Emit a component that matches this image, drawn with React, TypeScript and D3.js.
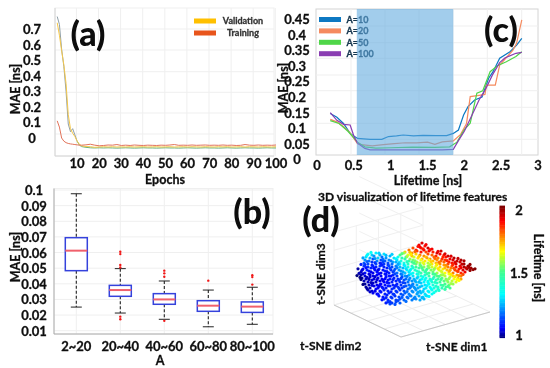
import React from "react";
import * as d3 from "d3";

const FONT = "Lato, 'Open Sans', sans-serif";

// ---------- panel (a): training curves ----------
const epochTicks = [10, 20, 30, 40, 50, 60, 70, 80, 90, 100];
const maeTicksA = [0, 0.1, 0.2, 0.3, 0.4, 0.5, 0.6, 0.7];
const epochs = [1, 2, 3, 4, 5, 6, 7, 8, 9, 10, 11, 12, 14, 16, 18, 20, 22, 24, 26, 28, 30, 32, 34, 36, 38, 40, 42, 44, 46, 48, 50, 52, 54, 56, 58, 60, 62, 64, 66, 68, 70, 72, 74, 76, 78, 80, 82, 84, 86, 88, 90, 92, 94, 96, 98, 100];
const valYellow = [0.74, 0.66, 0.56, 0.47, 0.35, 0.15, 0.06, 0.03, 0.01, -0.02, -0.04, -0.05, -0.055, -0.056, -0.06, -0.058, -0.056, -0.058, -0.056, -0.058, -0.057, -0.058, -0.056, -0.058, -0.057, -0.056, -0.058, -0.057, -0.056, -0.058, -0.057, -0.056, -0.058, -0.057, -0.056, -0.058, -0.056, -0.057, -0.058, -0.056, -0.057, -0.058, -0.056, -0.057, -0.056, -0.058, -0.057, -0.056, -0.058, -0.056, -0.057, -0.058, -0.056, -0.057, -0.058, -0.056];
const valGrey = [0.78, 0.73, 0.57, 0.46, 0.3, 0.09, 0.04, 0.06, 0.02, -0.02, -0.045, -0.055, -0.06, -0.063, -0.064, -0.063, -0.064, -0.063, -0.064, -0.065, -0.064, -0.063, -0.064, -0.065, -0.064, -0.063, -0.064, -0.064, -0.065, -0.064, -0.063, -0.064, -0.064, -0.065, -0.064, -0.063, -0.064, -0.065, -0.064, -0.063, -0.064, -0.064, -0.065, -0.064, -0.063, -0.064, -0.065, -0.064, -0.063, -0.064, -0.064, -0.065, -0.064, -0.063, -0.064, -0.064];
const trainRed = [0.11, 0.07, 0.0, -0.02, -0.03, -0.035, -0.038, -0.04, -0.042, -0.044, -0.046, -0.046, -0.044, -0.04, -0.046, -0.05, -0.048, -0.045, -0.046, -0.042, -0.048, -0.046, -0.048, -0.045, -0.047, -0.048, -0.046, -0.047, -0.048, -0.046, -0.047, -0.045, -0.042, -0.047, -0.046, -0.047, -0.045, -0.047, -0.046, -0.045, -0.047, -0.046, -0.047, -0.045, -0.047, -0.046, -0.048, -0.047, -0.042, -0.046, -0.047, -0.045, -0.047, -0.046, -0.047, -0.045];

// ---------- panel (b): box plot ----------
const groupsB = ["2~20", "20~40", "40~60", "60~80", "80~100"];
const whiskerHigh = [0.0976, 0.0497, 0.0418, 0.036, 0.0378];
const boxHigh = [0.0695, 0.039, 0.0337, 0.0292, 0.0284];
const medians = [0.0612, 0.036, 0.03, 0.026, 0.0254];
const boxLow = [0.0484, 0.032, 0.0269, 0.0224, 0.0217];
const whiskerLow = [0.0251, 0.0213, 0.0173, 0.0125, 0.0141];
const outliers = [
  [],
  [0.0605, 0.059, 0.052, 0.0505, 0.019, 0.0173],
  [0.0484, 0.0467, 0.0445, 0.0163],
  [0.042],
  [0.0455, 0.0443, 0.0395],
];
const maeTicksB = [0.01, 0.02, 0.03, 0.04, 0.05, 0.06, 0.07, 0.08, 0.09, 0.1];

// ---------- panel (c): MAE vs lifetime ----------
const lifeTicks = [0, 0.5, 1, 1.5, 2, 2.5, 3];
const maeTicksC = [0, 0.05, 0.1, 0.15, 0.2, 0.25, 0.3, 0.35, 0.4, 0.45];
const shadedRange = [0.54, 1.85];
const seriesNames = ["A=10", "A=20", "A=50", "A=100"];
const seriesColors = ["#0a78c2", "#f58a5e", "#4fd648", "#8a3db2"];
const a10: number[][] = [[0.18, 0.147], [0.27, 0.135], [0.36, 0.115], [0.45, 0.083], [0.55, 0.067], [0.72, 0.064], [0.88, 0.064], [0.97, 0.073], [1.08, 0.075], [1.17, 0.078], [1.31, 0.075], [1.44, 0.077], [1.62, 0.076], [1.76, 0.076], [1.85, 0.083], [1.92, 0.094], [1.99, 0.142], [2.05, 0.169], [2.14, 0.19], [2.24, 0.2], [2.33, 0.26], [2.39, 0.281], [2.48, 0.324], [2.62, 0.345], [2.71, 0.366], [2.78, 0.388]];
const a20: number[][] = [[0.18, 0.128], [0.27, 0.12], [0.36, 0.105], [0.45, 0.085], [0.55, 0.05], [0.6, 0.047], [0.75, 0.043], [0.9, 0.047], [1.05, 0.05], [1.2, 0.053], [1.35, 0.053], [1.5, 0.055], [1.6, 0.048], [1.7, 0.056], [1.85, 0.059], [1.95, 0.08], [2.03, 0.115], [2.08, 0.201], [2.2, 0.205], [2.28, 0.208], [2.3, 0.238], [2.42, 0.238], [2.48, 0.302], [2.66, 0.35], [2.71, 0.373], [2.78, 0.447]];
const a50: number[][] = [[0.18, 0.124], [0.3, 0.115], [0.42, 0.09], [0.55, 0.055], [0.65, 0.04], [0.8, 0.036], [1.0, 0.037], [1.3, 0.039], [1.6, 0.038], [1.8, 0.04], [1.9, 0.055], [2.0, 0.095], [2.08, 0.116], [2.17, 0.212], [2.25, 0.22], [2.35, 0.281], [2.45, 0.3], [2.57, 0.313], [2.7, 0.33], [2.78, 0.345]];
const a100: number[][] = [[0.18, 0.15], [0.27, 0.125], [0.36, 0.112], [0.45, 0.11], [0.5, 0.075], [0.55, 0.052], [0.65, 0.035], [0.72, 0.03], [0.9, 0.03], [1.2, 0.03], [1.5, 0.03], [1.7, 0.03], [1.85, 0.032], [1.92, 0.06], [2.0, 0.09], [2.1, 0.14], [2.2, 0.19], [2.3, 0.23], [2.38, 0.27], [2.48, 0.31], [2.55, 0.325], [2.7, 0.34], [2.78, 0.343]];
const seriesC = [a10, a20, a50, a100];

// ---------- panel (d): t-SNE cloud, [dim A, dim B, lifetime x 100] ----------
const tsnePoints: number[][] = [
  [64,60,190],[67,62,192],[70,59,188],[66,57,186],[58,57,182],[61,55,186],[65,58,190],[69,55,189],[73,57,193],[77,56,190],
  [50,53,170],[54,55,178],[57,52,176],[62,54,184],[66,53,187],[71,53,182],[74,54,190],[78,53,186],[82,52,192],[86,54,193],
  [13,51,135],[17,50,128],[21,52,132],[25,50,125],[29,51,130],[45,50,150],[49,52,158],[53,50,165],[57,49,172],[61,51,170],[65,50,178],[69,49,176],[73,51,182],[77,50,180],[81,49,186],[85,51,190],[89,50,188],[93,49,194],
  [11,48,130],[15,47,125],[19,49,122],[23,47,128],[27,48,118],[31,47,122],[35,49,125],[39,47,130],[43,48,135],[47,47,145],[51,48,150],[55,46,158],[59,48,162],[63,47,168],[67,46,172],[71,48,170],[75,46,176],[79,48,180],[83,47,178],[87,46,185],[91,48,188],[95,46,190],[99,47,195],
  [10,45,122],[14,44,118],[18,46,115],[22,44,120],[26,45,114],[30,44,116],[34,45,120],[38,43,125],[42,45,130],[46,44,138],[50,46,145],[54,44,148],[58,45,155],[62,43,158],[66,45,165],[70,44,168],[74,45,166],[78,44,172],[82,45,176],[86,44,180],[90,45,184],[94,43,186],[98,45,192],[102,44,194],[106,45,196],
  [9,42,116],[13,41,114],[17,43,112],[21,41,114],[25,42,110],[29,41,112],[33,42,115],[37,41,118],[41,43,125],[45,41,132],[49,42,138],[53,41,142],[57,43,150],[61,41,154],[65,42,158],[69,41,162],[73,42,160],[77,41,168],[81,42,172],[85,41,176],[89,43,180],[93,41,183],[97,42,188],[101,41,192],[105,43,193],[109,41,197],
  [9,39,112],[13,38,112],[17,40,110],[21,38,110],[25,39,112],[29,38,110],[33,40,112],[37,38,114],[41,39,120],[45,38,126],[49,40,130],[53,38,138],[57,39,142],[61,38,148],[65,40,152],[69,38,156],[73,39,155],[77,38,162],[81,39,165],[85,38,170],[89,40,175],[93,38,178],[97,39,183],[101,38,188],[105,39,192],[109,38,196],[113,39,198],[116,37,197],
  [8,36,106],[12,35,110],[16,37,110],[20,35,108],[24,36,110],[28,35,108],[32,37,110],[36,35,112],[40,36,116],[44,35,122],[48,37,126],[52,35,132],[56,36,136],[60,35,142],[64,37,146],[68,35,150],[72,36,150],[76,35,155],[80,37,160],[84,35,163],[88,36,168],[92,35,172],[96,37,178],[100,35,184],[104,36,188],[108,35,192],[112,36,196],
  [6,33,104],[10,32,108],[14,34,108],[18,32,106],[22,33,108],[26,32,106],[30,34,110],[34,32,110],[38,33,112],[42,32,118],[46,34,122],[50,32,127],[54,33,130],[58,32,136],[62,34,140],[66,32,146],[70,33,144],[74,32,150],[78,33,153],[82,32,158],[86,34,162],[90,32,166],[94,33,172],[98,32,178],[102,34,182],[106,32,186],[110,33,190],
  [6,30,103],[10,29,105],[14,31,106],[18,29,106],[22,30,107],[26,29,106],[30,31,108],[34,29,109],[38,30,110],[42,29,112],[46,31,118],[50,29,122],[54,30,126],[58,29,130],[62,31,135],[66,29,140],[70,30,140],[74,29,145],[78,31,148],[82,29,152],[86,30,157],[90,29,160],[94,31,165],[98,29,170],[102,30,175],[106,29,178],
  [7,27,102],[11,26,104],[15,28,105],[19,26,105],[23,27,106],[27,26,107],[31,28,108],[35,26,110],[39,27,110],[43,26,111],[47,28,114],[51,26,118],[55,27,122],[59,26,126],[63,28,130],[67,26,134],[71,27,136],[75,26,140],[79,28,145],[83,26,147],[87,27,152],[91,26,155],[95,28,160],[99,26,165],[103,27,170],[106,26,174],
  [9,24,103],[13,23,104],[17,25,105],[21,23,104],[25,24,106],[29,23,107],[33,25,108],[37,23,110],[41,24,110],[45,23,112],[49,25,115],[53,23,118],[57,24,122],[61,23,126],[65,25,130],[69,23,132],[73,24,136],[77,23,140],[81,25,143],[85,23,148],[89,24,152],[93,23,156],[97,24,160],[101,23,163],
  [10,21,102],[14,20,103],[18,22,104],[22,20,106],[26,21,108],[30,20,108],[34,22,110],[38,20,110],[42,21,110],[46,20,112],[50,22,114],[54,20,118],[58,21,120],[62,20,125],[66,22,128],[70,20,130],[74,21,134],[78,20,138],[82,22,142],[86,20,146],[90,21,150],[94,20,153],[98,21,157],
  [11,18,102],[15,17,104],[19,19,106],[23,17,107],[27,18,108],[31,17,109],[35,19,110],[39,17,111],[43,18,112],[47,17,113],[51,19,116],[55,17,119],[59,18,122],[63,17,124],[67,19,128],[71,17,131],[75,18,135],[79,17,138],[83,18,141],[87,17,144],[91,18,148],[95,17,150],
  [13,15,103],[17,14,105],[21,16,107],[25,14,108],[29,15,110],[33,14,110],[37,16,111],[41,14,112],[45,15,113],[49,14,115],[53,16,118],[57,14,121],[61,15,123],[65,14,126],[69,16,129],[73,14,132],[77,15,135],[81,14,138],[83,16,140],
  [18,12,106],[22,11,107],[26,13,108],[30,11,110],[34,12,111],[38,11,112],[42,13,112],[46,11,115],[50,12,117],[54,11,120],[58,13,122],[62,11,124],[66,12,127],[70,11,130],[74,13,132],[77,11,134],
  [24,9,108],[28,8,109],[32,10,110],[36,8,112],[40,9,112],[44,8,114],[48,10,116],[52,8,118],[56,9,120],[60,8,122],[64,9,124],[68,8,128],[72,9,130],
  [29,6,110],[33,5,111],[37,7,112],[41,5,113],[45,6,115],[49,5,117],[53,7,118],[57,5,120],[61,6,122],[65,5,124],[69,6,126],
  [33,3,112],[37,2,113],[41,3,114],[45,2,116],[35,1,114],
];
const tsneExtra: number[][] = [
  [63,58.5,188],[71,60.5,190],[68,56.2,187],[60,53.4,180],[75,55.3,188],[55,52.7,172],[83,53.6,191],[47,51.3,152],[90,51.2,192],[52,48.4,158],
  [16,52.6,134],[24,51.8,128],[31,49.6,126],[37,50.7,128],[12,49.7,132],[20,46.4,122],[28,45.6,118],[8,47.1,124],[41,46.2,132],[56,50.6,168],
  [64,48.7,170],[72,47.2,174],[80,46.5,180],[88,48.1,186],[96,48.8,192],[103,46.6,194],[109,44.2,196],[100,42.6,192],[92,44.3,186],[84,42.7,178],
  [76,43.4,170],[68,42.5,164],[60,44.2,154],[52,43.3,142],[44,42.3,128],[36,44.1,120],[28,43.2,114],[20,42.4,112],[12,43.5,116],[6,40.6,110],
  [11,37.4,108],[19,36.7,108],[27,39.8,110],[35,36.6,114],[43,40.6,124],[51,36.4,130],[59,41.8,150],[67,36.9,150],[75,40.4,160],[83,36.5,168],
  [91,39.6,176],[99,36.7,182],[107,40.8,194],[115,40.6,198],[118,35.4,198],[111,37.2,194],[103,33.6,184],[95,34.7,174],[87,32.9,162],[79,35.6,156],
  [71,34.4,148],[63,30.7,138],[55,34.6,132],[47,30.4,120],[39,34.2,114],[31,30.6,108],[23,34.8,106],[15,30.2,104],[7,34.8,105],[4,31.6,103],
  [12,27.6,103],[20,28.3,104],[28,24.6,106],[36,28.9,108],[44,24.8,112],[52,28.6,120],[60,24.4,124],[68,28.2,136],[76,24.7,138],[84,28.7,150],
  [92,24.8,156],[100,28.4,168],[108,30.6,182],[104,24.6,166],[96,21.4,158],[88,19.6,148],[80,22.7,142],[72,19.4,132],[64,22.8,126],[56,18.6,120],
  [48,22.4,113],[40,18.9,110],[32,22.6,108],[24,18.7,106],[16,22.4,103],[8,20.6,100],[12,16.4,102],[20,13.8,106],[28,16.8,109],[36,13.2,110],
  [44,16.6,112],[52,13.4,118],[60,16.7,122],[68,13.6,128],[76,16.4,134],[84,14.6,140],[90,15.7,146],[79,12.4,136],[71,9.6,130],[63,12.7,124],
  [55,9.4,120],[47,7.6,116],[39,10.6,112],[31,7.4,110],[23,10.8,108],[15,13.2,104],[27,5.2,108],[35,3.4,112],[43,4.4,114],[51,3.6,118],
  [59,6.7,120],[67,7.3,126],[74,8.6,132],[40,0.6,115],[31,2.1,110],[3,36.2,102],[5,27.6,100],[2,29.4,100],[120,36.2,200],[115,34.6,198],
  [8,31.2,104],[16,33.2,106],[24,31.3,107],[32,33.4,108],[40,31.2,114],[48,33.2,124],[56,31.2,132],[64,33.1,142],[72,31.3,146],[80,30.7,150],
  [88,30.3,158],[96,30.6,168],[104,29.4,176],[10,40.3,112],[18,38.8,110],[26,41.3,110],[34,39.2,114],[42,37.3,120],[50,39.2,132],[58,37.3,140],
  [66,38.8,152],[74,37.4,156],[82,40.4,168],[90,37.2,172],[98,40.6,186],[106,37.3,190],[114,37.6,197],[6,25.4,100],[14,25.6,103],[22,25.3,105],
  [30,26.2,107],[38,25.4,110],[46,26.6,114],[54,25.2,120],[62,26.9,128],[70,25.3,134],[78,26.4,142],[86,25.6,150],[94,26.3,158],[102,25.4,166],
  [17,19.7,105],[25,20.3,107],[33,19.2,110],[41,19.6,110],[49,18.4,114],[57,19.8,120],[65,18.2,126],[73,22.6,134],[81,18.8,140],[93,18.6,150],
];
const cbarTicks = [1, 1.5, 2];
const jetStops = [0, 0.07, 0.33, 0.5, 0.66, 0.89, 1];
const jetColors = ["#00007f", "#0000ff", "#00ffff", "#40ff90", "#ffff00", "#ff0000", "#7f0000"];

const frameColor = "#d4d4d4";
const gridColor = "#efefef";
const textColor = "#111";

function Label(p: any) {
  const { x, y, size = 13, rotate, children, anchor = "middle", fill = textColor } = p;
  return (
    <text
      x={x}
      y={y}
      fontSize={size}
      fontFamily={FONT}
      fontWeight={700}
      fill={fill}
      stroke={fill}
      strokeWidth={0.3}
      textAnchor={anchor}
      dominantBaseline="central"
      transform={rotate ? `rotate(${rotate} ${x} ${y})` : undefined}
    >
      {children}
    </text>
  );
}

function PanelTag({ x, y, children }: any) {
  return (
    <text x={x} y={y} fontSize={34} fontFamily={FONT} fontWeight={900} fill="#0a0a0a" textAnchor="middle" dominantBaseline="central">
      {children}
    </text>
  );
}

function PanelA() {
  const x = d3.scaleLinear().domain([0, 100]).range([55, 276]);
  const y = d3.scaleLinear().domain([0, 0.7]).range([138, 29]);
  const line = d3.line<number>().x((_, i) => x(epochs[i])).y((d) => y(d));
  const lineLate = d3.line<number>().x((_, i) => x(epochs[i + 9])).y((d) => y(d));
  const gridY = [50, 71.7, 92.3, 113, 134, 29];
  return (
    <g>
      <rect x={55} y={8} width={219} height={148} fill="#fff" stroke={gridColor} />
      {epochTicks.map((t) => <line key={t} x1={x(t) - 0.7} x2={x(t) - 0.7} y1={8} y2={156} stroke={gridColor} />)}
      {gridY.map((g) => <line key={g} x1={55} x2={274} y1={g} y2={g} stroke={gridColor} />)}
      <line x1={55} x2={55} y1={8} y2={156} stroke={frameColor} />
      <line x1={55} x2={274} y1={156} y2={156} stroke={frameColor} />
      <path d={line(valGrey.slice(0, 10))!} fill="none" stroke="#8f9fa8" strokeWidth={1} />
      <path d={lineLate(valGrey.slice(9))!} fill="none" stroke="#62b07a" strokeWidth={1} />
      <path d={line(valYellow)!} fill="none" stroke="#f5c84a" strokeWidth={1} />
      <path d={line(trainRed)!} fill="none" stroke="#e2735a" strokeWidth={1} />
      {maeTicksA.map((t) => <Label key={t} x={32} y={y(t)}>{t}</Label>)}
      {epochTicks.map((t) => <Label key={t} x={x(t)} y={163}>{t}</Label>)}
      <Label x={165} y={179} size={12.5}>Epochs</Label>
      <Label x={15.5} y={89} rotate={-90} size={12.5}>MAE [ns]</Label>
      <PanelTag x={88} y={32}>(a)</PanelTag>
      <rect x={194} y={18.5} width={22} height={5} fill="#ffc000" />
      <rect x={194} y={30.5} width={22} height={5} fill="#e8541a" />
      <Label x={243} y={20.5} size={9} fill="#333">Validation</Label>
      <Label x={243} y={32.5} size={9} fill="#333">Training</Label>
    </g>
  );
}

function PanelB() {
  const x = d3.scalePoint<string>().domain(groupsB).range([76.3, 252.3]);
  const y = d3.scaleLinear().domain([0.01, 0.1]).range([330.7, 190]);
  const half = 11;
  const cap = 5.5;
  return (
    <g>
      <rect x={54} y={188.5} width={219} height={145.5} fill="#fff" stroke={gridColor} />
      {groupsB.map((g) => <line key={g} x1={x(g)} x2={x(g)} y1={188.5} y2={334} stroke={gridColor} />)}
      {maeTicksB.map((t) => <line key={t} x1={54} x2={273} y1={y(t)} y2={y(t)} stroke={gridColor} />)}
      <line x1={54} x2={54} y1={188.5} y2={334} stroke="#aaa" />
      <line x1={54} x2={273} y1={334} y2={334} stroke="#aaa" />
      {groupsB.map((g, i) => {
        const c = x(g)!;
        return (
          <g key={g}>
            <line x1={c} x2={c} y1={y(whiskerHigh[i])} y2={y(boxHigh[i])} stroke="#222" strokeDasharray="3 2" strokeWidth={1.1} />
            <line x1={c} x2={c} y1={y(boxLow[i])} y2={y(whiskerLow[i])} stroke="#222" strokeDasharray="3 2" strokeWidth={1.1} />
            <line x1={c - cap} x2={c + cap} y1={y(whiskerHigh[i])} y2={y(whiskerHigh[i])} stroke="#222" />
            <line x1={c - cap} x2={c + cap} y1={y(whiskerLow[i])} y2={y(whiskerLow[i])} stroke="#222" />
            <rect x={c - half} y={y(boxHigh[i])} width={half * 2} height={y(boxLow[i]) - y(boxHigh[i])} fill="#fff" stroke="#3442dc" strokeWidth={1.5} />
            <line x1={c - half} x2={c + half} y1={y(medians[i])} y2={y(medians[i])} stroke="#f0606c" strokeWidth={2} />
            {outliers[i].map((o) => <circle key={o} cx={c} cy={y(o)} r={1.2} fill="#f01818" />)}
            <Label x={c} y={345.5}>{g}</Label>
          </g>
        );
      })}
      {maeTicksB.map((t) => <Label key={t} x={34} y={y(t)}>{t}</Label>)}
      <Label x={160} y={360} size={12.5}>A</Label>
      <Label x={15.5} y={257} rotate={-90} size={12.5}>MAE [ns]</Label>
      <PanelTag x={252} y={210}>(b)</PanelTag>
    </g>
  );
}

function PanelC() {
  const x = d3.scaleLinear().domain([0, 3]).range([317, 538]);
  const y = d3.scaleLinear().domain([0, 0.45]).range([159.3, 19]);
  const line = d3.line<number[]>().x((d) => x(d[0])).y((d) => y(d[1]));
  const gridX = [351, 385, 419, 453, 487.3, 521.7];
  const gridY = [139.3, 123.3, 107.3, 90.7, 75, 58.3, 42.7, 26];
  return (
    <g>
      <rect x={316} y={9} width={222} height={146} fill="#fff" stroke={frameColor} />
      {gridX.map((g) => <line key={g} x1={g} x2={g} y1={9} y2={155} stroke={gridColor} />)}
      {gridY.map((g) => <line key={g} x1={316} x2={538} y1={g} y2={g} stroke={gridColor} />)}
      {seriesC.map((s, i) => <path key={i} d={line(s)!} fill="none" stroke={seriesColors[i]} strokeWidth={1.2} />)}
      {seriesNames.map((n, i) => <Label key={n} x={346.5} y={19.5 + i * 11.4} size={9} anchor="start" fill="#14354e">{n}</Label>)}
      <rect x={x(shadedRange[0])} y={9} width={x(shadedRange[1]) - x(shadedRange[0])} height={146} fill="#5ea9df" opacity={0.58} />
      {seriesNames.map((n, i) => <rect key={n} x={319} y={17 + i * 11.4} width={22} height={5} fill={seriesColors[i]} />)}
      {maeTicksC.map((t) => <Label key={t} x={297} y={y(t)} size={13}>{t}</Label>)}
      {lifeTicks.map((t) => <Label key={t} x={x(t)} y={165}>{t}</Label>)}
      <Label x={428} y={180} size={12.5}>Lifetime [ns]</Label>
      <Label x={283} y={88} rotate={-90} size={12.5}>MAE [ns]</Label>
      <PanelTag x={501} y={28}>(c)</PanelTag>
    </g>
  );
}

function PanelD() {
  const a = d3.scaleLinear().domain([0, 1]).range([0, 1]);
  const project = (p: number, q: number, h: number): [number, number] => [
    334 + a(p) * 67 + a(q) * 89,
    305 + a(p) * 32 - a(q) * 25 - a(h) * 73,
  ];
  const fr = [0, 0.25, 0.5, 0.75, 1];
  const seg = (s: [number, number], e: [number, number], k: string, c = "#ededed") => (
    <line key={k} x1={s[0]} y1={s[1]} x2={e[0]} y2={e[1]} stroke={c} />
  );
  const u = d3.scaleLinear().domain([0, 120]).range([355, 475]);
  const v = d3.scaleLinear().domain([0, 65]).range([305, 240]);
  const color = d3.scaleLinear<string>().domain(jetStops.map((s) => 1 + s)).range(jetColors).clamp(true);
  const cb = d3.scaleLinear().domain([1, 2]).range([337.7, 207]);
  const cbSteps = d3.range(1, 2.0001, 0.01);
  return (
    <g>
      {fr.map((f) => seg(project(f, 0, 0), project(f, 1, 0), "f1" + f))}
      {fr.map((f) => seg(project(0, f, 0), project(1, f, 0), "f2" + f))}
      {fr.map((f) => seg(project(0, 1, f), project(0, 0, f), "w1" + f, "#f0f0f0"))}
      {fr.map((f) => seg(project(0, 1, f), project(-0.95, 1, f), "w2" + f, "#f0f0f0"))}
      {fr.map((f) => seg(project(0, f, 0), project(0, f, 1), "v1" + f, "#f0f0f0"))}
      {seg(project(0, 0, 0), project(1, 0, 0), "ax1", "#c8c8c8")}
      {seg(project(1, 0, 0), project(1, 1, 0), "ax2", "#c8c8c8")}
      {tsnePoints.concat(tsneExtra).map((p, i) => <circle key={i} cx={u(p[0])} cy={v(p[1])} r={1.6} fill={color(p[2] / 100)} />)}
      {cbSteps.map((s) => <rect key={s} x={499.5} y={cb(s) - 1.4} width={5.5} height={1.8} fill={color(s)} />)}
      {cbarTicks.map((t) => <Label key={t} x={519} y={t === 1 ? 334.5 : t === 2 ? 210 : 273}>{t}</Label>)}
      <Label x={538} y={268} rotate={90} size={12.5}>Lifetime [ns]</Label>
      <Label x={412.7} y={196.7} size={12}>3D visualization of lifetime features</Label>
      <Label x={320} y={274} rotate={-90} size={12}>t-SNE dim3</Label>
      <Label x={330.7} y={345.7} size={12}>t-SNE dim2</Label>
      <Label x={456.7} y={346.5} size={12}>t-SNE dim1</Label>
      <PanelTag x={321} y={218}>(d)</PanelTag>
    </g>
  );
}

export default function App() {
  return (
    <svg width={550} height={368} style={{ position: "absolute", left: 0, top: 0, background: "#fff" }}>
      <defs>
        <filter id="soft" x="0" y="0" width="100%" height="100%">
          <feGaussianBlur stdDeviation={0.35} />
        </filter>
      </defs>
      <g filter="url(#soft)">
        <rect width={550} height={368} fill="#fff" />
        <PanelA />
        <PanelB />
        <PanelC />
        <PanelD />
      </g>
    </svg>
  );
}
